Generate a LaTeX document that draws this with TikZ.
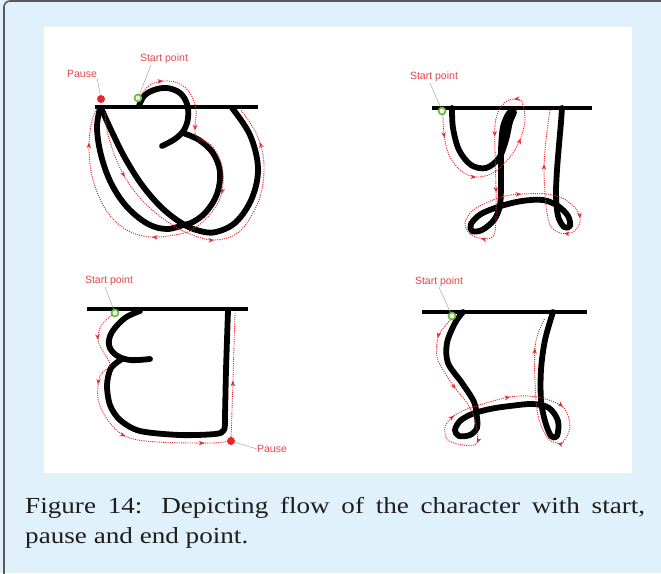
\documentclass[tikz,border=0pt]{standalone}
\usepackage{fontspec}
\setmainfont{Liberation Serif}
\newfontfamily\capfont[FakeStretch=1.18]{Liberation Serif}
\newfontfamily\lblfont{Liberation Sans}
\usetikzlibrary{decorations.markings,arrows.meta,calc}
\definecolor{bgblue}{HTML}{E1F1FB}
\definecolor{guidered}{HTML}{E8262B}
\definecolor{lblred}{HTML}{E2474C}
\definecolor{startgreen}{HTML}{6DB33F}
\definecolor{framegray}{HTML}{5A5A5A}
\definecolor{captext}{HTML}{1E1E1E}
\newcommand\gtip{\arrow{Stealth[length=5.5pt,width=4.5pt]}}
\tikzset{
 pen/.style={line width=5.8pt, line cap=round, line join=round},
 headline/.style={line width=4.5pt},
 guide/.style={guidered, line width=0.9pt, dash pattern=on 1.1pt off 1.1pt},
 tips/.style={postaction={decorate, decoration={markings, #1}}},
 lbl/.style={font=\lblfont\fontsize{10.5}{12}\selectfont, text=lblred, inner sep=0pt},
 leader/.style={draw=gray!70, line width=0.5pt},
 startmk/.style={circle, draw=startgreen, line width=1.6pt, fill=startgreen!15, minimum size=7pt, inner sep=0pt},
 pausemk/.style={circle, fill=guidered, minimum size=8pt, inner sep=0pt},
}
\begin{document}
\begin{tikzpicture}[x=1pt,y=-1pt]
\useasboundingbox (0,0) rectangle (661,573);
\fill[bgblue] (0,0) rectangle (661,573);
\fill[white] (44,27) rectangle (632,473);
\draw[framegray, line width=1.6pt, rounded corners=6pt] (4,574) -- (4,1) -- (662,1);

% ---------- panel 1 ----------
\draw[headline] (95,107) -- (258,107);
\draw[pen] plot[smooth, tension=0.6] coordinates {(139,106) (144,96) (154,90) (167,88) (180,93) (187,104) (188,118) (184,130) (175,139) (162,146)};
\draw[pen] plot[smooth, tension=0.6] coordinates {(183,133) (199,140) (213,153) (220,172) (217,194) (206,212) (193,222) (183,225)};
\draw[pen] plot[smooth, tension=0.6] coordinates {(100,108) (97,128) (101,155) (111,183) (127,207) (148,224) (167,229) (183,225)};
\draw[pen] plot[smooth, tension=0.6] coordinates {(101,108) (112,132) (125,158) (142,185) (162,208) (183,224) (200,231) (216,232) (236,222) (252,198) (258,168) (250,135) (232,108)};
\draw[guide, tips={mark=at position 0.065 with {\gtip}, mark=at position 0.23 with {\gtip}, mark=at position 0.41 with {\gtip}, mark=at position 0.62 with {\gtip}, mark=at position 0.92 with {\gtip}}]
 plot[smooth, tension=0.6] coordinates {(141,95) (150,85) (163,81) (178,83) (190,93) (196,110) (195,127) (197,137) (212,146) (222,166) (222,192) (212,212) (195,228) (180,234) (150,237) (125,229) (106,210) (93,180) (89,150) (91,125) (96,110)};
\draw[guide, tips={mark=at position 0.2 with {\gtip}, mark=at position 0.53 with {\gtip}, mark=at position 0.89 with {\gtip}}]
 plot[smooth, tension=0.6] coordinates {(105,112) (108,135) (121,170) (140,198) (165,220) (190,234) (215,240) (240,231) (259,200) (264,165) (257,135) (241,110)};
\node[pausemk] (pz1) at (101,99) {};
\node[startmk] (st1) at (138,98) {};
\node[lbl] (lp1) at (82,74) {Pause};
\node[lbl] (ls1) at (164,59) {Start point};
\draw[leader] (lp1.south east) -- (pz1);
\draw[leader] ($(ls1.south)+(-13,1)$) -- (st1);

% ---------- panel 2 ----------
\draw[headline] (432,108) -- (592,108);
\draw[pen] plot[smooth, tension=0.55] coordinates {(452,108) (453,128) (459,150) (471,165) (486,168) (499,158) (506,140) (510,122) (514,112) (509,113) (503,127) (501,150) (501,180) (500,205) (494,220) (482,230) (472,231) (471,224) (481,214) (501,206) (522,201) (543,200) (558,206) (568,216) (570,226) (564,227) (558,216) (556,195) (557,170) (559,145) (561,122) (562,108)};
\draw[guide, tips={mark=at position 0.034 with {\gtip}, mark=at position 0.116 with {\gtip}, mark=at position 0.21 with {\gtip}, mark=at position 0.28 with {\gtip}, mark=at position 0.35 with {\gtip}, mark=at position 0.434 with {\gtip}, mark=at position 0.52 with {\gtip}, mark=at position 0.657 with {\gtip}, mark=at position 0.762 with {\gtip}, mark=at position 0.80 with {\gtip}, mark=at position 0.918 with {\gtip}}]
 plot[smooth, tension=0.55] coordinates {(443,115) (444,135) (449,155) (460,170) (475,177) (493,173) (510,157) (520,140) (525,120) (522,102) (516,99) (507,101) (499,110) (495,125) (495,150) (496,190) (496,215) (494,235) (484,239) (470,234) (465,223) (472,211) (488,202) (505,196) (523,194) (547,194) (564,199) (577,210) (580,222) (573,232) (560,233) (550,225) (546,205) (544,170) (546,140) (550,110)};
\node[startmk] (st2) at (442,111) {};
\node[lbl] (ls2) at (434,77) {Start point};
\draw[leader] ($(ls2.south)+(-4,1)$) -- (st2);

% ---------- panel 3 ----------
\draw[headline] (87,309) -- (248,309);
\draw[pen] plot[smooth, tension=0.6] coordinates {(140,311) (125,318) (112,332) (109,345) (116,355) (130,360) (150,359)};
\draw[pen] plot[smooth, tension=0.5] coordinates {(122,359) (111,368) (107,385) (110,405) (120,420) (140,431) (180,435) (215,434) (224,430) (225,415) (226,370) (228,311)};
\draw[guide, tips={mark=at position 0.12 with {\gtip}, mark=at position 0.33 with {\gtip}, mark=at position 0.58 with {\gtip}, mark=at position 0.9 with {\gtip}}]
 plot[smooth, tension=0.6] coordinates {(112,315) (101,326) (98,340) (104,353) (110,365) (101,374) (98,386) (99,403) (110,423) (127,437) (157,442) (212,443) (229,441)};
\node[pausemk] (pz3) at (231,441) {};
\draw[guide, tips={mark=at position 0.45 with {\gtip}}] (pz3) -- (233,380) -- (235,312);
\node[startmk] (st3) at (115,313) {};
\node[lbl] (ls3) at (109,281) {Start point};
\node[lbl] (lp3) at (272,449) {Pause};
\draw[leader] ($(ls3.south)+(-4,1)$) -- (st3);
\draw[leader] (lp3.west) -- (pz3);

% ---------- panel 4 ----------
\draw[headline] (422,312) -- (587,312);
\draw[pen] plot[smooth, tension=0.55] coordinates {(463,312) (455,323) (447,343) (448,363) (462,383) (474,402) (477,418) (477,428) (470,435) (459,436) (455,430) (460,421) (472,414) (490,409) (510,406) (533,404) (549,408) (558,421) (557,436) (551,436) (545,421) (541,400) (541,370) (545,340) (553,312)};
\draw[guide, tips={mark=at position 0.05 with {\gtip}, mark=at position 0.163 with {\gtip}, mark=at position 0.285 with {\gtip}, mark=at position 0.405 with {\gtip}, mark=at position 0.525 with {\gtip}, mark=at position 0.636 with {\gtip}, mark=at position 0.726 with {\gtip}, mark=at position 0.935 with {\gtip}}]
 plot[smooth, tension=0.55] coordinates {(452,318) (445,326) (438,337) (437,357) (445,373) (455,388) (467,403) (475,420) (477,443) (463,445) (448,440) (445,427) (455,415) (473,407) (510,397) (537,397) (563,407) (570,427) (563,442) (557,443) (547,437) (537,410) (535,347) (545,318)};
\node[startmk] (st4) at (452,316) {};
\node[lbl] (ls4) at (439,282) {Start point};
\draw[leader] (ls4.south) -- (st4);

% ---------- caption ----------
\node[anchor=north west, inner sep=0pt, text width=620pt, align=justify, text=captext,
      font=\capfont\fontsize{23}{30}\selectfont] (cap) at (25,497)
 {Figure 14: Depicting flow of the character with start,\linebreak pause and end point.};
\end{tikzpicture}
\end{document}
